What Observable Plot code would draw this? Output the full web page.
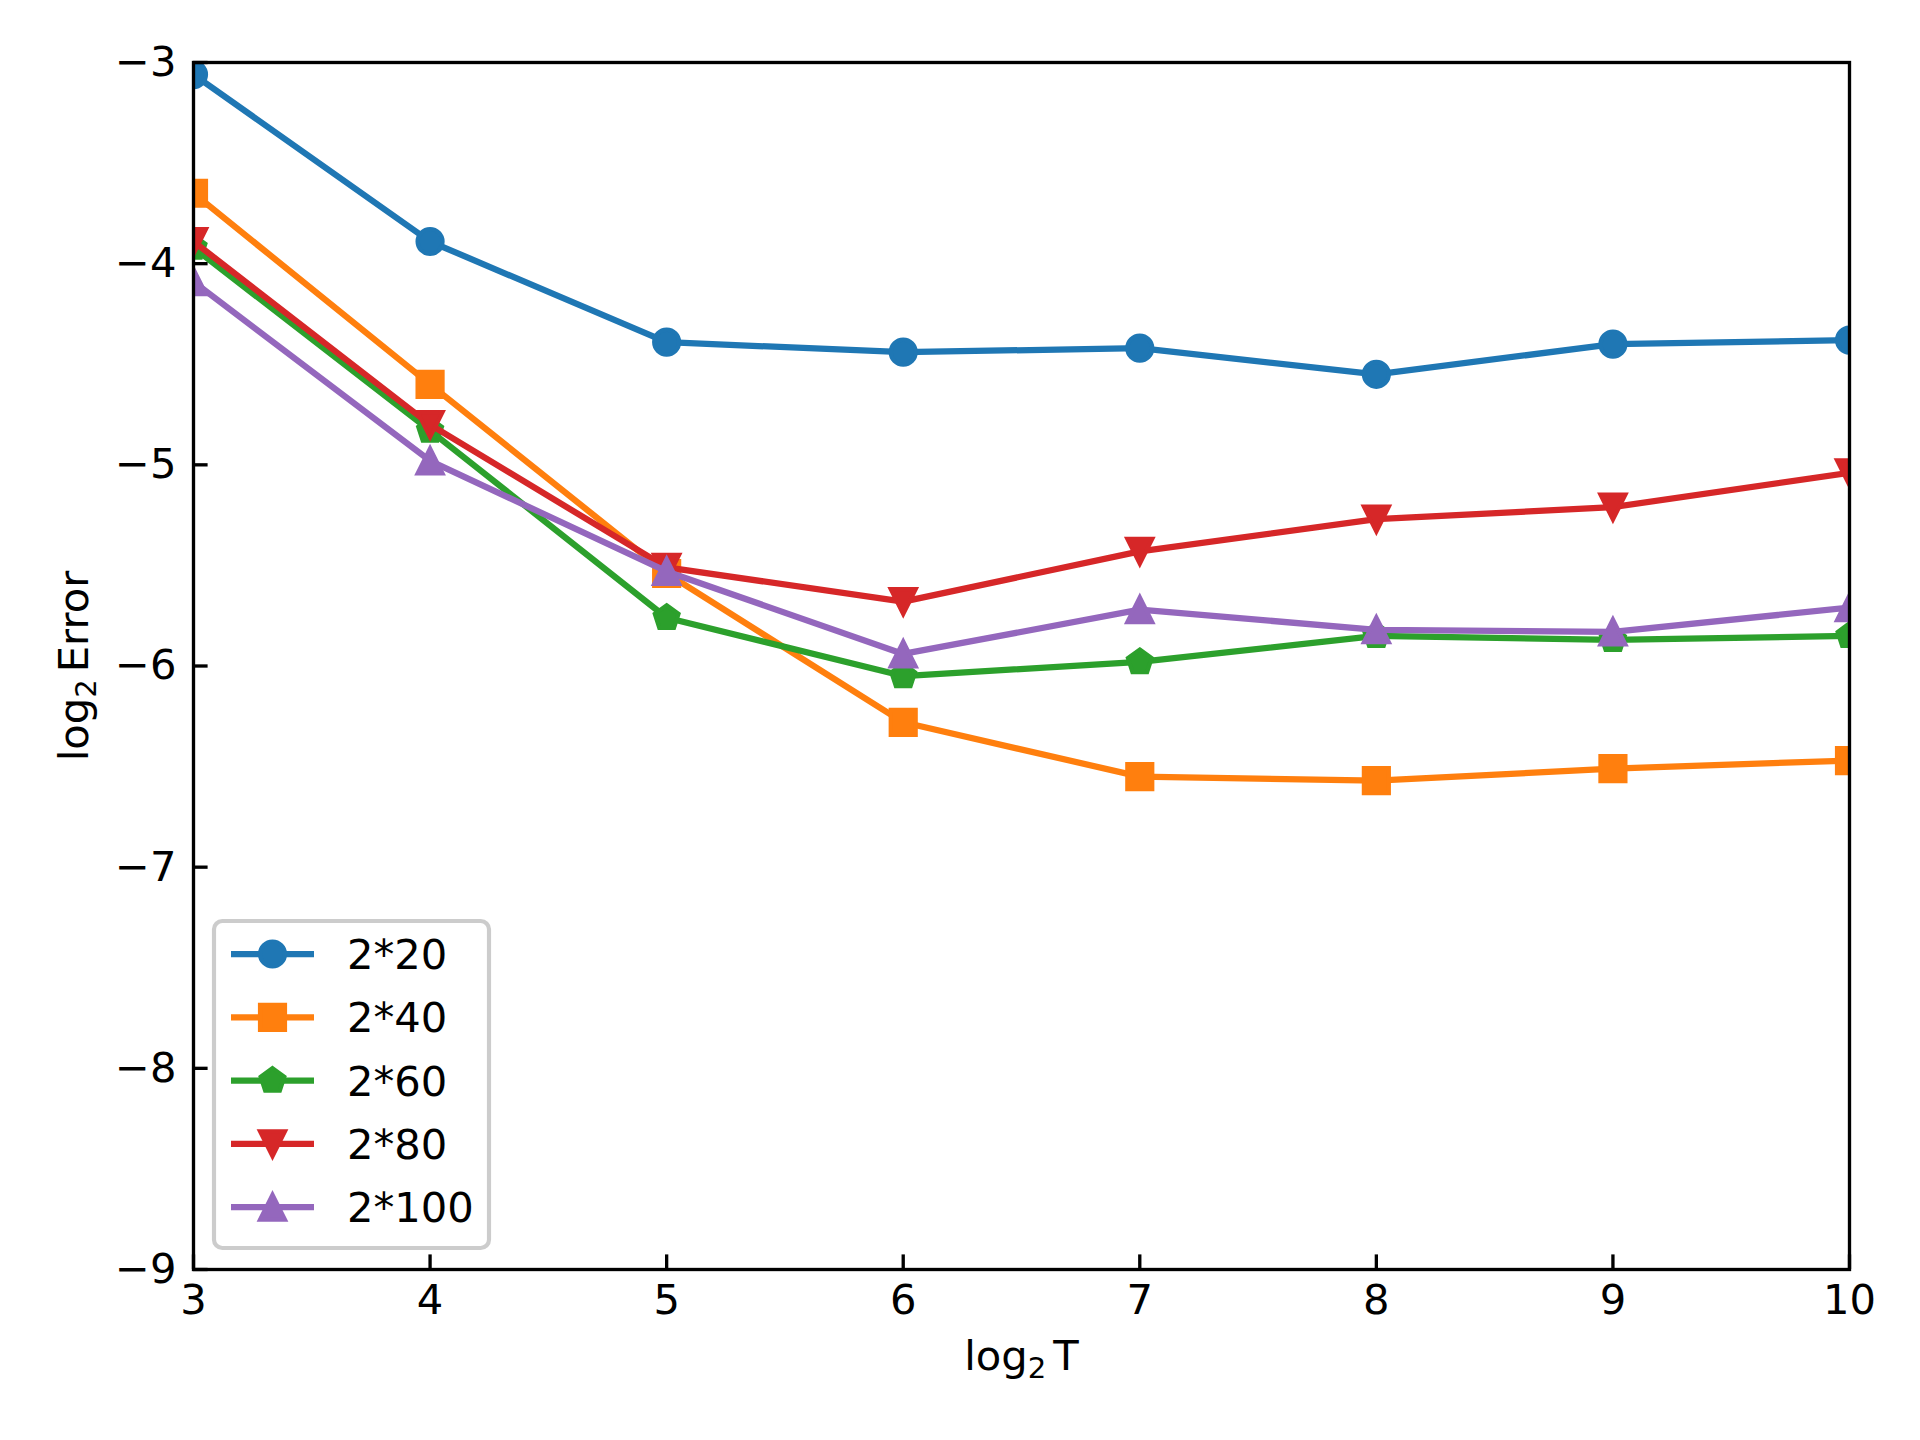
<!DOCTYPE html>
<html>
<head>
<meta charset="utf-8">
<script src="https://cdn.jsdelivr.net/npm/d3@7"></script>
<script src="https://cdn.jsdelivr.net/npm/@observablehq/plot@0.6"></script>
<style>
  html, body { margin: 0; padding: 0; background: #fff; }
  #chart { width: 1920px; height: 1440px; }
</style>
</head>
<body>
<div id="chart"></div>
<script>
// ---------- data ----------
const xValues = [3, 4, 5, 6, 7, 8, 9, 10];
const seriesNames = ["2*20", "2*40", "2*60", "2*80", "2*100"];
const s20  = [-3.06, -3.89, -4.39, -4.44, -4.42, -4.55, -4.40, -4.38];
const s40  = [-3.65, -4.60, -5.54, -6.28, -6.55, -6.57, -6.51, -6.47];
const s60  = [-3.92, -4.83, -5.76, -6.05, -5.98, -5.85, -5.87, -5.85];
const s80  = [-3.89, -4.80, -5.51, -5.68, -5.43, -5.27, -5.21, -5.04];
const s100 = [-4.09, -4.98, -5.53, -5.94, -5.72, -5.82, -5.83, -5.71];
const seriesValues = [s20, s40, s60, s80, s100];
const seriesColors = ["#1f77b4", "#ff7f0e", "#2ca02c", "#d62728", "#9467bd"];
const xTicks = [3, 4, 5, 6, 7, 8, 9, 10];
const yTicks = [-9, -8, -7, -6, -5, -4, -3];
const xDomain = [3, 10];
const yDomain = [-9, -3];
const xLabel = "log2 T";
const yLabel = "log2 Error";

// ---------- layout ----------
const W = 1920, H = 1440;
const mL = 193, mR = 71, mT = 62, mB = 171;
const plotW = W - mL - mR, plotH = H - mT - mB;
const FS = 41.67;           // 10pt @ 300dpi
const TICK = 14.6;          // 3.5pt
const AXLW = 3.33;          // 0.8pt
const LW = 6.25;            // 1.5pt
const MR = 12.5;            // markersize 6pt / 2
const MEW = 4.17;           // marker edge 1pt
const FONT = "DejaVu Sans";

// matplotlib-like marker shapes
const rOf = size => Math.sqrt(size / Math.PI);
const symCircle = { draw(ctx, size) { const r = rOf(size); ctx.moveTo(r, 0); ctx.arc(0, 0, r, 0, 2 * Math.PI); ctx.closePath(); } };
const symSquare = { draw(ctx, size) { const r = rOf(size); ctx.moveTo(-r, -r); ctx.lineTo(r, -r); ctx.lineTo(r, r); ctx.lineTo(-r, r); ctx.closePath(); } };
const symPentagon = { draw(ctx, size) {
  const r = rOf(size);
  for (let k = 0; k < 5; k++) {
    const a = -Math.PI / 2 + k * 2 * Math.PI / 5;
    const px = r * Math.cos(a), py = r * Math.sin(a);
    if (k === 0) ctx.moveTo(px, py); else ctx.lineTo(px, py);
  }
  ctx.closePath();
} };
const symTriDown = { draw(ctx, size) { const r = rOf(size); ctx.moveTo(0, r); ctx.lineTo(-r, -r); ctx.lineTo(r, -r); ctx.closePath(); } };
const symTriUp = { draw(ctx, size) { const r = rOf(size); ctx.moveTo(0, -r); ctx.lineTo(-r, r); ctx.lineTo(r, r); ctx.closePath(); } };
const seriesSymbols = [symCircle, symSquare, symPentagon, symTriDown, symTriUp];
const seriesJoins = ["round", "miter", "miter", "miter", "miter"];

// rows
const seriesRows = seriesNames.map((name, i) =>
  xValues.map((x, j) => ({ series: name, x, y: seriesValues[i][j] })));

const marks = [];
seriesRows.forEach((rows, i) => {
  marks.push(Plot.line(rows, {
    x: "x", y: "y", stroke: seriesColors[i], strokeWidth: LW,
    strokeLinejoin: "round", strokeLinecap: "square", clip: true
  }));
  marks.push(Plot.dot(rows, {
    x: "x", y: "y", r: MR, symbol: seriesSymbols[i],
    fill: seriesColors[i], stroke: seriesColors[i], strokeWidth: MEW,
    strokeLinejoin: seriesJoins[i], clip: true
  }));
});

const intFmt = d3.format("d");
marks.push(
  Plot.tickX(xTicks, { x: d => d, insetTop: plotH - TICK, stroke: "black", strokeWidth: AXLW }),
  Plot.tickY(yTicks, { y: d => d, insetRight: plotW - TICK, stroke: "black", strokeWidth: AXLW }),
  Plot.axisX(xTicks, { tickSize: 0, tickPadding: 15, fontSize: FS, label: null, fill: "black", tickFormat: intFmt }),
  Plot.axisY(yTicks, { tickSize: 0, tickPadding: 17, fontSize: FS, label: null, fill: "black", tickFormat: intFmt }),
  Plot.text([xLabel], { text: d => d, frameAnchor: "bottom", textAnchor: "middle", dy: 100, lineAnchor: "bottom", fontSize: FS, fill: "black" }),
  Plot.text([yLabel], { text: d => d, frameAnchor: "left", textAnchor: "middle", dx: -106, rotate: -90, lineAnchor: "bottom", fontSize: FS, fill: "black" }),
  Plot.frame({ stroke: "black", strokeWidth: AXLW })
);

const svg = Plot.plot({
  width: W, height: H,
  marginLeft: mL, marginRight: mR, marginTop: mT, marginBottom: mB,
  style: { fontFamily: FONT, fontSize: FS + "px", background: "white", color: "black", overflow: "visible" },
  x: { domain: xDomain, nice: false },
  y: { domain: yDomain, nice: false },
  marks
});

// subscripts in axis labels (log₂)
d3.select(svg).selectAll("text").each(function () {
  const t = this.textContent;
  const m = t.match(/^log2 (.*)$/);
  if (m && this.childElementCount === 0) {
    const sel = d3.select(this);
    sel.text(null);
    sel.append("tspan").text("log");
    sel.append("tspan").attr("font-size", FS * 0.7).attr("dy", 8).text("2");
    sel.append("tspan").attr("dy", -8).attr("dx", 7).text(m[1]);
  }
});

// legend (inside axes, lower left, matplotlib style)
const lg = d3.select(svg).append("g")
  .attr("font-family", FONT).attr("font-size", FS).attr("text-anchor", "start");
const boxX = 214, boxY = 921, boxW = 275, boxH = 327;
lg.append("rect")
  .attr("x", boxX).attr("y", boxY).attr("width", boxW).attr("height", boxH)
  .attr("rx", 8.3).attr("ry", 8.3)
  .attr("fill", "white").attr("fill-opacity", 0.8)
  .attr("stroke", "#cccccc").attr("stroke-width", 4.17);
seriesNames.forEach((name, i) => {
  const cy = 954 + i * 63.3;
  const hx0 = 231, hx1 = 314, hc = (hx0 + hx1) / 2;
  lg.append("line").attr("x1", hx0).attr("x2", hx1).attr("y1", cy).attr("y2", cy)
    .attr("stroke", seriesColors[i]).attr("stroke-width", LW).attr("stroke-linecap", "butt");
  lg.append("path")
    .attr("d", d3.symbol(seriesSymbols[i], Math.PI * MR * MR)())
    .attr("transform", `translate(${hc},${cy})`)
    .attr("fill", seriesColors[i]).attr("stroke", seriesColors[i])
    .attr("stroke-width", MEW).attr("stroke-linejoin", seriesJoins[i]);
  lg.append("text").attr("x", 347).attr("y", cy).attr("dy", "0.36em")
    .attr("text-anchor", "start").attr("fill", "black").text(name);
});

document.getElementById("chart").appendChild(svg);
</script>
</body>
</html>
